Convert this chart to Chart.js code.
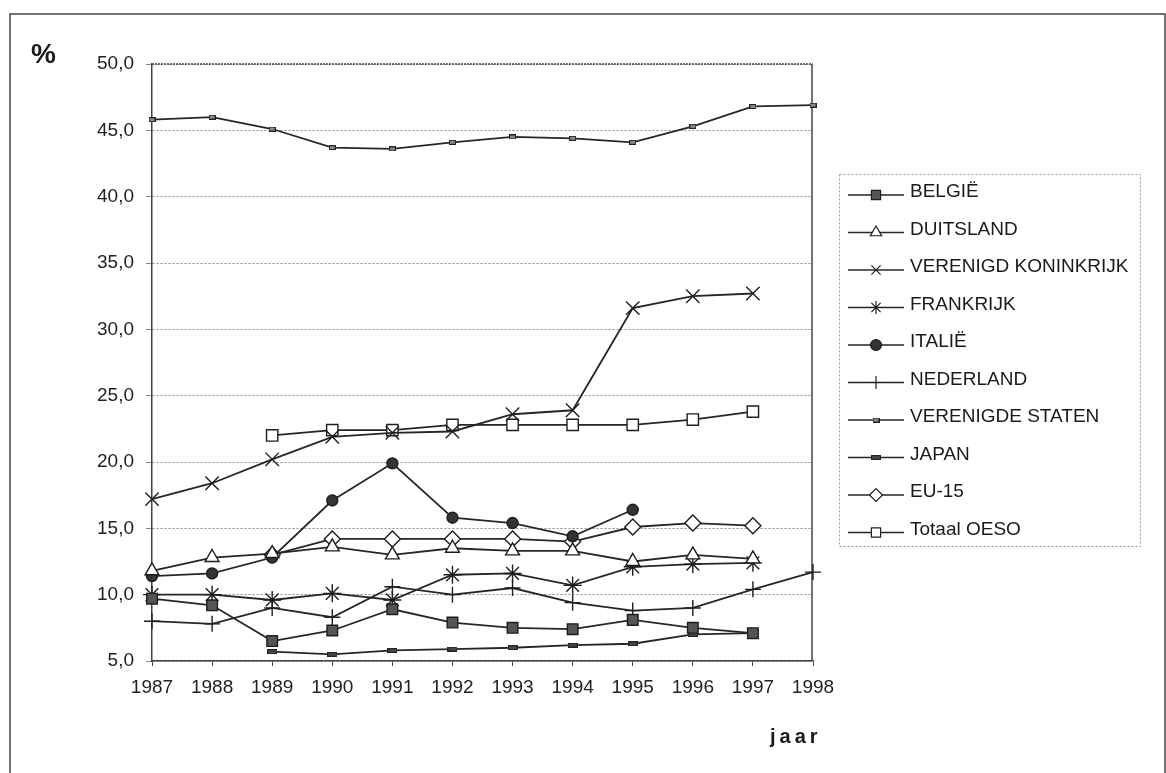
<!DOCTYPE html>
<html>
<head>
<meta charset="utf-8">
<script src="https://cdn.jsdelivr.net/npm/chart.js@4.4.1/dist/chart.umd.min.js"></script>
<style>
  html, body { margin: 0; background: #fff; }
  canvas { display: block; }
</style>
</head>
<body>
<canvas id="chart" width="1166" height="773"></canvas>
<script>
const YEARS = ['1987','1988','1989','1990','1991','1992','1993','1994','1995','1996','1997','1998'];

const belgie    = [9.7, 9.2, 6.5, 7.3, 8.9, 7.9, 7.5, 7.4, 8.1, 7.5, 7.1, null];
const duitsland = [11.8, 12.8, 13.1, 13.6, 13.0, 13.5, 13.3, 13.3, 12.5, 13.0, 12.7, null];
const verKon    = [17.2, 18.4, 20.2, 21.9, 22.2, 22.3, 23.6, 23.9, 31.6, 32.5, 32.7, null];
const frankrijk = [10.0, 10.0, 9.6, 10.1, 9.6, 11.5, 11.6, 10.7, 12.1, 12.3, 12.4, null];
const italie    = [11.4, 11.6, 12.8, 17.1, 19.9, 15.8, 15.4, 14.4, 16.4, null, null, null];
const nederland = [8.0, 7.8, 9.0, 8.3, 10.6, 10.0, 10.5, 9.4, 8.8, 9.0, 10.4, 11.7];
const verStaten = [45.8, 46.0, 45.1, 43.7, 43.6, 44.1, 44.5, 44.4, 44.1, 45.3, 46.8, 46.9];
const japan     = [null, null, 5.7, 5.5, 5.8, 5.9, 6.0, 6.2, 6.3, 7.0, 7.1, null];
const eu15      = [null, null, 13.0, 14.2, 14.2, 14.2, 14.2, 14.0, 15.1, 15.4, 15.2, null];
const oeso      = [null, null, 22.0, 22.4, 22.4, 22.8, 22.8, 22.8, 22.8, 23.2, 23.8, null];

const Y_MIN = 5, Y_MAX = 50, Y_STEP = 5;

const FONT = "'Liberation Sans', Arial, sans-serif";
const INK = '#262626';

// small flat bar markers (US / Japan series)
function barMarker(w, h, fill){
  const c = document.createElement('canvas');
  c.width = w; c.height = h;
  const g = c.getContext('2d');
  g.fillStyle = fill; g.fillRect(0, 0, w, h);
  g.strokeStyle = '#222'; g.lineWidth = 1; g.strokeRect(0.5, 0.5, w - 1, h - 1);
  return c;
}

function series(label, data, style, radius, fill){
  return {
    label, data,
    borderColor: INK, borderWidth: 1.8,
    pointStyle: style, pointRadius: radius, pointHoverRadius: radius,
    pointBackgroundColor: fill, pointBorderColor: '#1e1e1e', pointBorderWidth: 1.4,
    tension: 0, spanGaps: false, fill: false
  };
}

const datasets = [
  series('BELGIË', belgie, 'rect', 7.5, '#555'),
  series('DUITSLAND', duitsland, 'triangle', 8, '#fff'),
  series('VERENIGD KONINKRIJK', verKon, 'crossRot', 9.5, '#fff'),
  series('FRANKRIJK', frankrijk, 'star', 9, '#fff'),
  series('ITALIË', italie, 'circle', 5.5, '#333'),
  series('NEDERLAND', nederland, 'cross', 8, '#fff'),
  series('VERENIGDE STATEN', verStaten, barMarker(7, 5, '#888'), 4, '#888'),
  series('JAPAN', japan, barMarker(10, 5, '#444'), 4, '#444'),
  series('EU-15', eu15, 'rectRot', 8, '#fff'),
  series('Totaal OESO', oeso, 'rect', 8, '#fff'),
];

// page frame, plot box edges, legend box and axis captions
const decor = {
  id: 'decor',
  beforeDraw(chart){
    const ctx = chart.ctx;
    ctx.save();
    ctx.fillStyle = '#fff';
    ctx.fillRect(0, 0, chart.width, chart.height);
    ctx.strokeStyle = '#444'; ctx.lineWidth = 1.5;
    ctx.strokeRect(10, 14, 1155, 800);
    ctx.restore();
  },
  beforeDatasetsDraw(chart){
    const {ctx, chartArea: a} = chart;
    ctx.save();
    ctx.strokeStyle = '#444'; ctx.lineWidth = 1.5;
    ctx.setLineDash([2, 1]);
    ctx.beginPath(); ctx.moveTo(a.left, a.top); ctx.lineTo(a.right, a.top); ctx.stroke();
    ctx.setLineDash([]);
    ctx.beginPath(); ctx.moveTo(a.right - 1, a.top); ctx.lineTo(a.right - 1, a.bottom); ctx.stroke();
    ctx.restore();
  },
  afterDraw(chart){
    const ctx = chart.ctx;
    ctx.save();
    // legend
    const bx = 839, by = 174, bw = 301, bh = 372;
    ctx.strokeStyle = '#9a9a9a'; ctx.lineWidth = 1; ctx.setLineDash([2, 2]);
    ctx.strokeRect(bx + 0.5, by + 0.5, bw, bh);
    ctx.setLineDash([]);
    ctx.font = '19px ' + FONT;
    ctx.textBaseline = 'middle';
    chart.data.datasets.forEach((ds, i) => {
      const y = 192 + i * 37.5;
      ctx.strokeStyle = INK; ctx.lineWidth = 1.4;
      ctx.beginPath(); ctx.moveTo(848, y + 3); ctx.lineTo(904, y + 3); ctx.stroke();
      ctx.fillStyle = ds.pointBackgroundColor;
      ctx.strokeStyle = ds.pointBorderColor; ctx.lineWidth = 1.2;
      Chart.helpers.drawPoint(ctx, {pointStyle: ds.pointStyle, radius: Math.min(ds.pointRadius, 6.5), rotation: 0, borderWidth: 1.2}, 876, y + 3);
      ctx.fillStyle = '#1a1a1a';
      ctx.fillText(ds.label, 910, y);
    });
    // axis captions
    ctx.fillStyle = '#1a1a1a';
    ctx.textBaseline = 'alphabetic';
    ctx.font = 'bold 28px ' + FONT;
    ctx.fillText('%', 31, 63);
    ctx.font = 'bold 20px ' + FONT;
    ctx.letterSpacing = '4px';
    ctx.fillText('jaar', 770, 743);
    ctx.restore();
  }
};

new Chart(document.getElementById('chart'), {
  type: 'line',
  data: { labels: YEARS, datasets },
  plugins: [decor],
  options: {
    responsive: false,
    animation: false,
    layout: { padding: { left: 0, top: 64, right: 1166 - 813, bottom: 0 } },
    plugins: { legend: { display: false }, tooltip: { enabled: false } },
    scales: {
      x: {
        type: 'category',
        offset: false,
        afterFit: s => { s.height = 112; },
        grid: { display: true, drawOnChartArea: false, tickLength: 5, color: '#444' },
        border: { display: true, color: '#444', width: 1.5 },
        ticks: { color: '#222', font: { family: FONT, size: 19 }, padding: 10, maxRotation: 0, autoSkip: false }
      },
      y: {
        min: Y_MIN, max: Y_MAX,
        afterFit: s => { s.width = 152; },
        grid: { color: '#8c8c8c', lineWidth: 1, tickLength: 6 },
        border: { display: true, color: '#444', width: 1.5, dash: [2, 2] },
        ticks: {
          stepSize: Y_STEP, color: '#222', padding: 12,
          font: { family: FONT, size: 19 },
          callback: v => v.toFixed(1).replace('.', ',')
        }
      }
    }
  }
});
</script>
</body>
</html>
